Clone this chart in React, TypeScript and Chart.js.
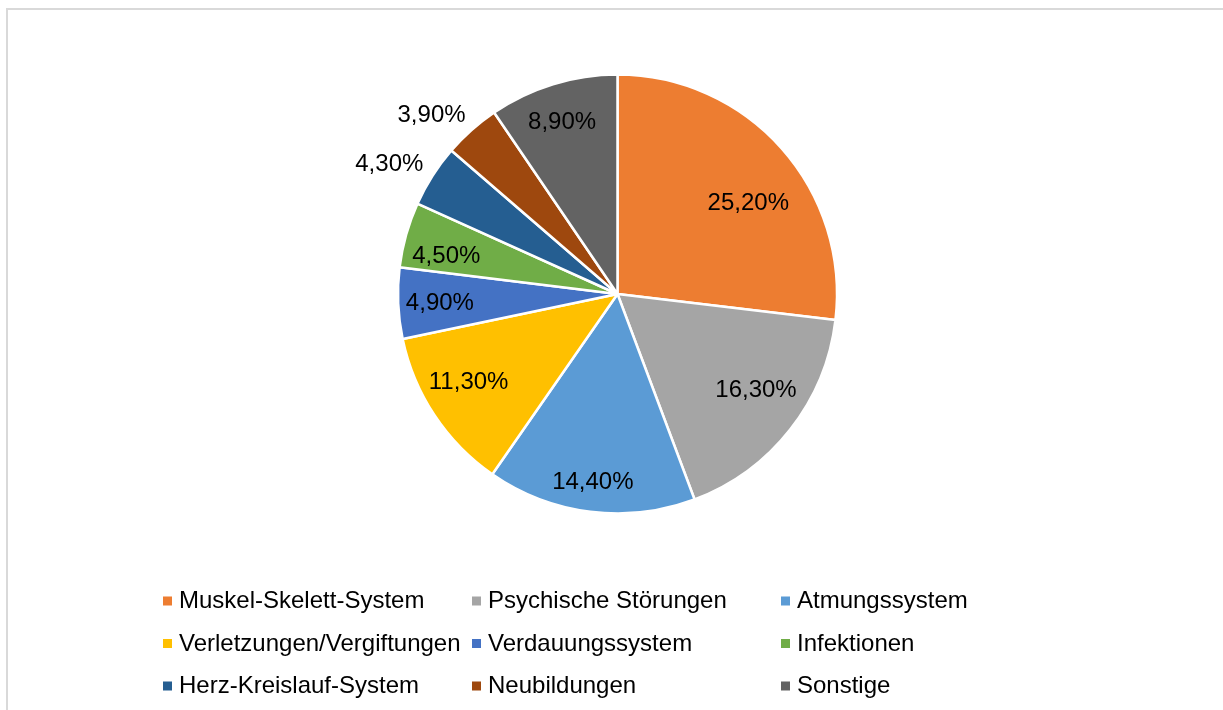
import React, { useEffect, useRef } from "react";
import { Chart, registerables } from "chart.js";

Chart.register(...registerables);

// ---- data ----
const categories = [
  "Muskel-Skelett-System",
  "Psychische Störungen",
  "Atmungssystem",
  "Verletzungen/Vergiftungen",
  "Verdauungssystem",
  "Infektionen",
  "Herz-Kreislauf-System",
  "Neubildungen",
  "Sonstige",
];
const shares = [25.2, 16.3, 14.4, 11.3, 4.9, 4.5, 4.3, 3.9, 8.9];

// ---- styles ----
const sliceColors = [
  "#ED7D31",
  "#A5A5A5",
  "#5B9BD5",
  "#FFC000",
  "#4472C4",
  "#70AD47",
  "#255E91",
  "#9E480E",
  "#636363",
];
// label placement (fraction of radius, angular shift in degrees)
const labelRadius = [0.73, 0.765, 0.86, 0.785, 0.81, 0.8, 1.2, 1.18, 0.83];
const labelShift = [6.3, -3.7, 0.4, 3.3, -0.2, -2.8, -2.6, -4.2, -0.6];

const FONT = '24px "Liberation Sans", Arial, sans-serif';
const TEXT_DY = 1.5;

const fmt = (v: number) => v.toFixed(2).replace(".", ",") + "%";

const sliceLabelPlugin = {
  id: "sliceLabels",
  afterDatasetsDraw(chart: any) {
    const ctx = chart.ctx;
    const meta = chart.getDatasetMeta(0);
    const values = chart.data.datasets[0].data as number[];
    ctx.save();
    ctx.font = FONT;
    ctx.fillStyle = "#000000";
    ctx.textAlign = "center";
    ctx.textBaseline = "middle";
    meta.data.forEach((arc: any, i: number) => {
      const p = arc.getProps(["x", "y", "startAngle", "endAngle", "outerRadius"], true);
      const mid = (p.startAngle + p.endAngle) / 2 + (labelShift[i] * Math.PI) / 180;
      const r = p.outerRadius * labelRadius[i];
      ctx.fillText(fmt(values[i]), p.x + Math.cos(mid) * r, p.y + Math.sin(mid) * r + TEXT_DY);
    });
    ctx.restore();
  },
};

const gridLegendPlugin = {
  id: "gridLegend",
  afterDraw(chart: any) {
    const ctx = chart.ctx;
    const labels = chart.data.labels as string[];
    const colors = chart.data.datasets[0].backgroundColor as string[];
    const cols = 3;
    const left = 163;
    const colW = 309;
    const top = 601;
    const rowH = 42.5;
    const box = 9;
    ctx.save();
    ctx.font = FONT;
    ctx.textAlign = "left";
    ctx.textBaseline = "middle";
    labels.forEach((lab, i) => {
      const c = i % cols;
      const r = Math.floor(i / cols);
      const x = left + c * colW;
      const y = top + r * rowH;
      ctx.fillStyle = colors[i];
      ctx.fillRect(x, y - box / 2, box, box);
      ctx.fillStyle = "#000000";
      ctx.fillText(lab, x + 16, y + 0.5);
    });
    ctx.restore();
  },
};

export default function App() {
  const ref = useRef<HTMLCanvasElement | null>(null);

  useEffect(() => {
    if (!ref.current) return;
    const chart = new Chart(ref.current, {
      type: "pie",
      data: {
        labels: categories,
        datasets: [
          {
            data: shares,
            backgroundColor: sliceColors,
            borderColor: "#ffffff",
            borderWidth: 2.5,
          },
        ],
      },
      options: {
        animation: false,
        responsive: false,
        maintainAspectRatio: false,
        devicePixelRatio: 1,
        radius: 219.5,
        layout: { padding: { left: 12, right: 0, top: 62, bottom: 184 } },
        plugins: {
          legend: { display: false },
          tooltip: { enabled: false },
          title: { display: false },
        },
      } as any,
      plugins: [sliceLabelPlugin, gridLegendPlugin],
    });
    return () => chart.destroy();
  }, []);

  return (
    <div
      style={{
        position: "fixed",
        left: 0,
        top: 0,
        width: 1223,
        height: 710,
        overflow: "hidden",
        background: "#ffffff",
      }}
    >
      <div
        style={{
          position: "absolute",
          left: 6,
          top: 8,
          width: 1300,
          height: 800,
          border: "2px solid #d9d9d9",
          boxSizing: "border-box",
        }}
      />
      <canvas
        ref={ref}
        width={1223}
        height={710}
        style={{ position: "absolute", left: 0, top: 0, width: 1223, height: 710 }}
      />
    </div>
  );
}
